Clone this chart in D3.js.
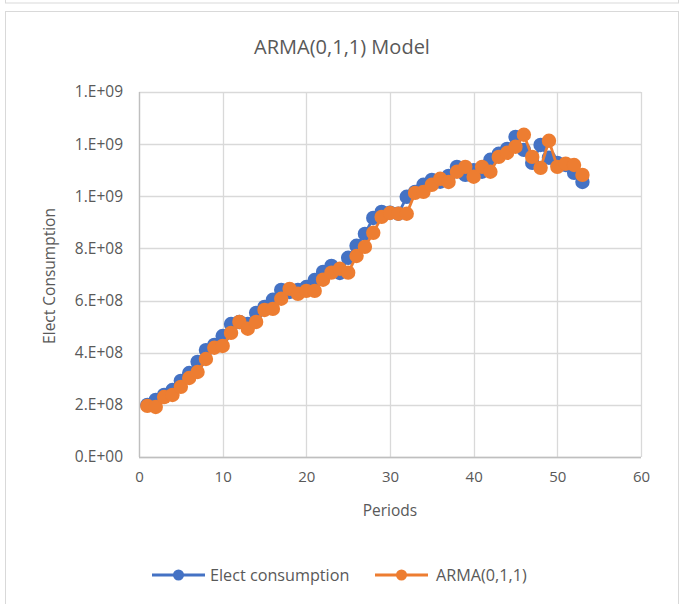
<!DOCTYPE html>
<html><head><meta charset="utf-8">
<script src="https://cdn.jsdelivr.net/npm/d3@7"></script>
<style>body{margin:0;background:#fff}</style>
</head><body>
<svg id="c" width="683" height="604"></svg>
<script>
const periods = d3.range(1, 54);
const electConsumption = [
  2.00e8,2.19e8,2.38e8,2.57e8,2.92e8,3.22e8,3.65e8,4.10e8,4.30e8,4.64e8,
  5.10e8,5.18e8,5.10e8,5.53e8,5.76e8,6.03e8,6.41e8,6.33e8,6.41e8,6.52e8,
  6.79e8,7.10e8,7.33e8,7.06e8,7.64e8,8.10e8,8.56e8,9.17e8,9.40e8,9.37e8,
  9.33e8,9.98e8,1.017e9,1.044e9,1.063e9,1.056e9,1.078e9,1.113e9,1.082e9,1.100e9,
  1.094e9,1.140e9,1.163e9,1.182e9,1.228e9,1.178e9,1.128e9,1.197e9,1.148e9,1.128e9,
  1.120e9,1.090e9,1.055e9
];
const armaForecast = [
  1.96e8,1.92e8,2.30e8,2.38e8,2.69e8,3.03e8,3.26e8,3.76e8,4.19e8,4.26e8,
  4.76e8,5.18e8,4.92e8,5.18e8,5.64e8,5.68e8,6.07e8,6.45e8,6.26e8,6.37e8,
  6.37e8,6.80e8,7.07e8,7.22e8,7.07e8,7.71e8,8.06e8,8.60e8,9.21e8,9.36e8,
  9.33e8,9.33e8,1.013e9,1.017e9,1.044e9,1.067e9,1.055e9,1.094e9,1.113e9,1.075e9,
  1.113e9,1.094e9,1.151e9,1.167e9,1.190e9,1.236e9,1.151e9,1.109e9,1.213e9,1.113e9,
  1.125e9,1.120e9,1.082e9
];
const xTicks = [0,10,20,30,40,50,60];
const yTicks = [0,2e8,4e8,6e8,8e8,1.0e9,1.2e9,1.4e9];
const yTickLabels = ["0.E+00","2.E+08","4.E+08","6.E+08","8.E+08","1.E+09","1.E+09","1.E+09"];
const seriesNames = ["Elect consumption","ARMA(0,1,1)"];
const colors = ["#4472C4","#ED7D31"];

const svg = d3.select("#c");
const font = "'Open Sans', sans-serif";
const txt = "#595959";

// outer boxes
svg.append("rect").attr("x",5.5).attr("y",-20).attr("width",673).attr("height",23).attr("fill","none").attr("stroke","#d9d9d9");
svg.append("rect").attr("x",5.5).attr("y",11.5).attr("width",673).attr("height",620).attr("fill","#fff").attr("stroke","#d9d9d9");

const x = d3.scaleLinear().domain([0,60]).range([139,641]);
const y = d3.scaleLinear().domain([0,1.4e9]).range([457,92]);

// gridlines
const g = svg.append("g");
g.selectAll(".hg").data(yTicks).join("line")
  .attr("x1",x(0)).attr("x2",x(60)).attr("y1",d=>Math.round(y(d))+0.5).attr("y2",d=>Math.round(y(d))+0.5)
  .attr("stroke","#d9d9d9").attr("stroke-width",1.3);
g.selectAll(".vg").data(xTicks).join("line")
  .attr("y1",y(0)).attr("y2",y(1.4e9)).attr("x1",d=>Math.round(x(d))+0.5).attr("x2",d=>Math.round(x(d))+0.5)
  .attr("stroke","#d9d9d9").attr("stroke-width",1.3);
// axis lines
svg.append("line").attr("x1",x(0)+0.5).attr("x2",x(0)+0.5).attr("y1",y(0)).attr("y2",y(1.4e9)).attr("stroke","#bfbfbf").attr("stroke-width",1.3);
svg.append("line").attr("x1",x(0)).attr("x2",x(60)).attr("y1",y(0)+0.5).attr("y2",y(0)+0.5).attr("stroke","#bfbfbf").attr("stroke-width",1.3);

// axes labels via d3 axes
const xAxis = d3.axisBottom(x).tickValues(xTicks).tickSize(0).tickPadding(14);
const xa = svg.append("g").attr("transform",`translate(0,${y(0)})`).call(xAxis);
xa.select(".domain").remove();
xa.selectAll("text").attr("fill",txt).style("font-family",font).style("font-size","15px");

const yAxis = d3.axisLeft(y).tickValues(yTicks).tickSize(0).tickPadding(16).tickFormat((d,i)=>yTickLabels[i]);
const ya = svg.append("g").attr("transform",`translate(${x(0)},0)`).call(yAxis);
ya.select(".domain").remove();
ya.selectAll("text").attr("fill",txt).style("font-family",font).style("font-size","15.5px");

// titles
svg.append("text").attr("x",342).attr("y",54).attr("text-anchor","middle").attr("fill",txt)
  .style("font-family",font).style("font-size","20px").text("ARMA(0,1,1) Model");
svg.append("text").attr("x",390).attr("y",516).attr("text-anchor","middle").attr("fill",txt)
  .style("font-family",font).style("font-size","15.5px").text("Periods");
svg.append("text").attr("transform",`translate(55,276) rotate(-90)`).attr("text-anchor","middle").attr("fill",txt)
  .style("font-family",font).style("font-size","15.5px").text("Elect Consumption");

// series
const seriesData = [electConsumption, armaForecast];
const line = d3.line().x((d,i)=>x(periods[i])).y(d=>y(d));
seriesData.forEach((vals,k)=>{
  const sg = svg.append("g");
  sg.append("path").datum(vals).attr("d",line).attr("fill","none").attr("stroke",colors[k]).attr("stroke-width",2.8).attr("stroke-linejoin","round");
  sg.selectAll("circle").data(vals).join("circle")
    .attr("cx",(d,i)=>x(periods[i])).attr("cy",d=>y(d)).attr("r",7.2).attr("fill",colors[k]);
});

// legend
const legX = [152, 375];
seriesNames.forEach((n,k)=>{
  const lg = svg.append("g");
  lg.append("line").attr("x1",legX[k]).attr("x2",legX[k]+53).attr("y1",575).attr("y2",575).attr("stroke",colors[k]).attr("stroke-width",2.8);
  lg.append("circle").attr("cx",legX[k]+26.5).attr("cy",575).attr("r",5.5).attr("fill",colors[k]);
  lg.append("text").attr("x",legX[k]+(k===0?58:61)).attr("y",581).attr("fill",txt).style("font-family",font).style("font-size","16.2px").text(n);
});
</script>
</body></html>
